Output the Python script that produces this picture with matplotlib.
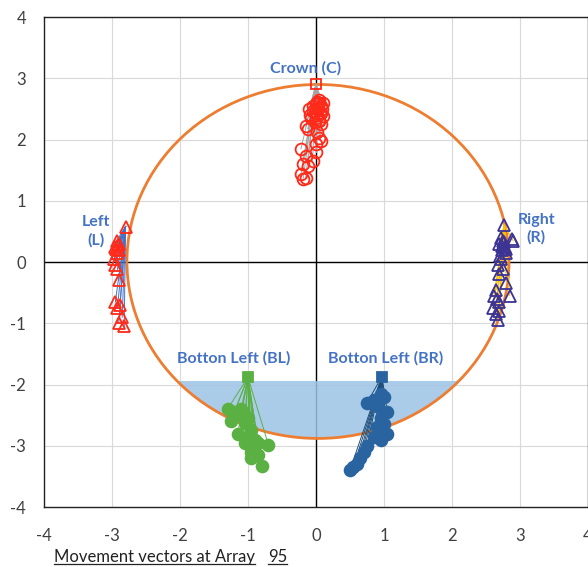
import numpy as np
import matplotlib.pyplot as plt
from matplotlib.patches import Ellipse, Rectangle
from matplotlib.lines import Line2D

plt.rcParams['font.family'] = ['Lato', 'DejaVu Sans']
plt.rcParams['axes.unicode_minus'] = False

# tunnel outline (ellipse) and invert fill level
ring_w, ring_h = 5.62, 5.78
ring_cx, ring_cy = 0.03, 0.01
fill_top = -1.95

# Crown (C)
c_org = (0.0, 2.9)
c_x = [0.02, 0.05, 0.08, 0.03, -0.02, 0.06, 0.1, 0.0, 0.04, 0.07, -0.05, 0.1, -0.1, 0.05, -0.08,
       0.0, 0.03, -0.04, 0.08, 0.02, -0.07, 0.05, 0.09, -0.02,
       -0.15, -0.12, 0.02, 0.05, 0.0, 0.07, -0.22, -0.15, -0.19, -0.12, -0.22, -0.15, -0.19, -0.05, 0.0]
c_y = [2.62, 2.6, 2.55, 2.5, 2.45, 2.42, 2.38, 2.35, 2.3, 2.25, 2.55, 2.6, 2.5, 2.65, 2.4,
       2.58, 2.52, 2.47, 2.44, 2.4, 2.36, 2.32, 2.5, 2.28,
       2.22, 2.18, 2.12, 2.02, 1.93, 1.98, 1.85, 1.74, 1.6, 1.57, 1.44, 1.38, 1.35, 1.65, 1.8]

# Left (L)
l_org = (-2.8, 0.58)
l_x = [-2.93, -2.9, -2.95, -2.9, -2.93, -2.91, -2.94, -2.97, -2.95, -2.92, -2.9, -2.95, -2.88, -2.92, -2.85, -2.9, -2.82]
l_y = [0.35, 0.3, 0.25, 0.2, 0.15, 0.28, 0.22, 0.05, -0.05, -0.12, -0.3, -0.65, -0.7, -0.75, -0.9, -1.0, -1.05]

# Right (R)
r_org = (2.77, 0.6)
r_x = [2.72, 2.75, 2.7, 2.78, 2.74, 2.8, 2.9, 2.72, 2.68, 2.75, 2.7, 2.8, 2.65, 2.62, 2.85, 2.7, 2.6, 2.65, 2.68, 2.88,
       2.76, 2.73, 2.79, 2.71, 2.66, 2.7]
r_y = [0.4, 0.35, 0.3, 0.25, 0.2, 0.15, 0.35, 0.05, -0.05, -0.12, -0.2, -0.35, -0.45, -0.55, -0.55, -0.65, -0.75, -0.85, -0.95, 0.38,
       0.32, 0.27, 0.22, 0.1, -0.6, -0.8]

# Botton Left (BL)
bl_org = (-1.0, -1.88)
bl_x = [-1.3, -1.2, -1.1, -1.0, -1.25, -1.05, -0.95, -1.15, -1.0, -0.9, -1.05, -0.85, -0.7, -0.95, -0.85, -0.8, -1.1, -0.95]
bl_y = [-2.4, -2.45, -2.5, -2.55, -2.6, -2.62, -2.75, -2.8, -2.85, -2.9, -2.95, -2.95, -2.98, -3.1, -3.15, -3.33, -2.4, -3.2]

# Botton Left (BR)
br_org = (0.97, -1.87)
br_x = [0.95, 1.0, 0.85, 0.75, 0.9, 1.05, 0.95, 1.0, 0.9, 1.05, 0.85, 0.95, 0.75, 0.7, 0.65, 0.6, 0.55, 0.5]
br_y = [-2.15, -2.2, -2.25, -2.3, -2.35, -2.45, -2.55, -2.65, -2.7, -2.8, -2.85, -2.9, -3.0, -3.1, -3.2, -3.3, -3.35, -3.4]

ticks = [-4, -3, -2, -1, 0, 1, 2, 3, 4]

fig = plt.figure(figsize=(5.88, 5.67), dpi=100)
ax = fig.add_axes([0.0748, 0.1058, 0.925, 0.864])
ax.set_xlim(-4, 4)
ax.set_ylim(-4, 4)
ax.set_xticks(ticks)
ax.set_yticks(ticks)
ax.grid(True, color='#D9D9D9', lw=0.8)
ax.set_axisbelow(True)
ax.tick_params(length=0, labelsize=12, labelcolor='#404040', pad=13)
ax.tick_params(axis='x', pad=15)
for s in ax.spines.values():
    s.set_color('#222222')
    s.set_linewidth(1.0)
ax.axhline(0, color='black', lw=1, zorder=1)
ax.axvline(0, color='black', lw=1, zorder=1)

# invert fill: ellipse clipped below fill level
fill = Ellipse((ring_cx, ring_cy), ring_w, ring_h, facecolor='#9DC3E6', edgecolor='none', alpha=0.85, zorder=2)
ax.add_patch(fill)
clip = Rectangle((-4, -4), 8, fill_top + 4, transform=ax.transData)
fill.set_clip_path(clip)

ring = Ellipse((ring_cx, ring_cy), ring_w, ring_h, facecolor='none', edgecolor='#ED7D31', lw=2, zorder=3)
ax.add_patch(ring)


def group(org, xs, ys, col, linecol, marker, org_marker, filled=False):
    for x, y in zip(xs, ys):
        ax.plot([org[0], x], [org[1], y], color=linecol, lw=0.7, zorder=4)
    ax.plot(xs, ys, ls='none', marker=marker, ms=8.5, mew=1.3, mec=col,
            mfc=col if filled else 'none', zorder=5)
    ax.plot([org[0]], [org[1]], ls='none', marker=org_marker, ms=6.5 if org_marker == 's' else 8.5,
            mew=1.3, mec=col, mfc=col if filled else 'none', zorder=6)


group(c_org, c_x, c_y, '#FF2A1A', '#A5A5A5', 'o', 's')
group(l_org, l_x, l_y, '#FF2A1A', '#4472C4', '^', '^')
group(r_org, r_x, r_y, '#3B3494', '#FFC000', '^', '^')
group(bl_org, bl_x, bl_y, '#5BB043', '#5BB043', 'o', 's', filled=True)
group(br_org, br_x, br_y, '#2A64A0', '#1F4E79', 'o', 's', filled=True)

lab = dict(color='#4472C4', fontsize=11.5, fontweight='bold', ha='center', va='center', zorder=7)
ax.text(-0.15, 3.17, 'Crown (C)', **lab)
ax.text(-3.24, 0.5, 'Left\n(L)', linespacing=1.3, **lab)
ax.text(3.24, 0.54, 'Right\n(R)', linespacing=1.3, **lab)
ax.text(-1.21, -1.57, 'Botton Left (BL)', **lab)
ax.text(1.03, -1.57, 'Botton Left (BR)', **lab)

# caption with underlines
t1 = fig.text(54 / 588, 1 - 557 / 567, 'Movement vectors at Array', fontsize=12, color='#222222', va='center')
t2 = fig.text(268 / 588, 1 - 557 / 567, '95', fontsize=12, color='#222222', va='center')
fig.canvas.draw()
r = fig.canvas.get_renderer()
for t in (t1, t2):
    bb = t.get_window_extent(r).transformed(fig.transFigure.inverted())
    fig.add_artist(Line2D([bb.x0, bb.x1], [bb.y0 + 0.002, bb.y0 + 0.002], color='#222222', lw=0.9,
                          transform=fig.transFigure))

fig.savefig('out.png', dpi=100)
